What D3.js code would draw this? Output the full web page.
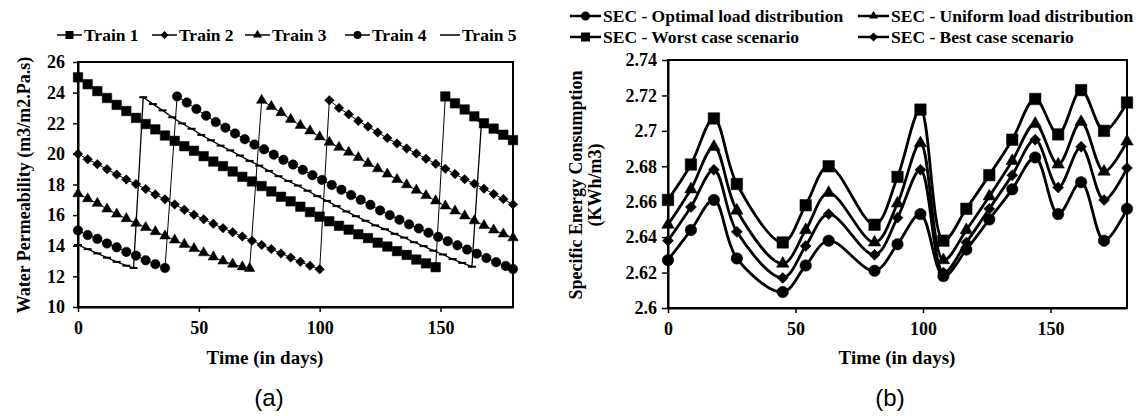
<!DOCTYPE html>
<html>
<head>
<meta charset="utf-8">
<script src="https://d3js.org/d3.v7.min.js"></script>
<style>
  body { margin: 0; background: #fff; }
  svg text { font-family: "Liberation Serif", "Times New Roman", serif; font-weight: bold; fill: #000; }
  .tag { font-family: "Liberation Sans", Arial, sans-serif !important; font-weight: normal !important; }
  .axis .domain { stroke: #000; stroke-width: 2; }
  .axis .tick line { stroke: #000; stroke-width: 1.5; }
</style>
</head>
<body>
<script>

// ---------- data: panel (a) water permeability ----------
var dayTicks = [0, 50, 100, 150];
var permTicks = [10, 12, 14, 16, 18, 20, 22, 24, 26];

var t1Days = [0,4,8,12,16,20,24,28,32,36,40,44,48,52,56,60,64,68,72,76,80,84,88,92,96,100,104,108,112,116,120,124,128,132,136,140,144,148,
              152,156,160,164,168,172,176,180];
var t1Perm = [25.0,24.55,24.1,23.65,23.2,22.8,22.35,21.95,21.6,21.2,20.85,20.5,20.2,19.85,19.5,19.2,18.85,18.5,18.2,17.9,17.55,17.2,16.9,16.55,16.2,15.9,15.6,15.3,15.05,14.75,14.5,14.2,13.95,13.65,13.4,13.1,12.85,12.6,
              23.75,23.3,22.9,22.45,22.0,21.65,21.25,20.9];

var t2Days = [0,4,8,12,16,20,24,28,32,36,40,44,48,52,56,60,64,68,72,76,80,84,88,92,96,100,
              104,108,112,116,120,124,128,132,136,140,144,148,152,156,160,164,168,172,176,180];
var t2Perm = [20.0,19.65,19.33,19.0,18.65,18.33,18.03,17.7,17.35,17.03,16.7,16.35,16.03,15.73,15.43,15.15,14.88,14.6,14.33,14.05,13.78,13.5,13.23,12.95,12.7,12.46,
              23.5,23.0,22.58,22.15,21.78,21.4,21.03,20.68,20.35,20.03,19.68,19.35,19.03,18.68,18.35,18.05,17.73,17.38,17.05,16.7];

var t3Days = [0,4,8,12,16,20,24,28,32,36,40,44,48,52,56,60,64,68,71,
              76,80,84,88,92,96,100,104,108,112,116,120,124,128,132,136,140,144,148,152,156,160,164,168,172,176,180];
var t3Perm = [17.4,17.07,16.77,16.4,16.07,15.77,15.47,15.19,14.92,14.64,14.37,14.09,13.82,13.54,13.27,13.0,12.8,12.62,12.52,
              23.5,23.1,22.69,22.25,21.86,21.5,21.11,20.76,20.43,20.11,19.76,19.38,19.03,18.68,18.33,17.98,17.63,17.28,16.93,16.6,16.27,15.95,15.63,15.32,15.03,14.77,14.52];

var t4Days = [0,4,8,12,16,20,24,28,32,36,
              41,45,49,53,57,61,65,69,73,77,81,85,89,93,97,101,105,109,113,117,121,125,129,133,137,141,145,149,153,157,161,165,169,173,177,180];
var t4Perm = [15.0,14.7,14.45,14.15,13.9,13.6,13.35,13.05,12.8,12.55,
              23.75,23.35,22.93,22.49,22.08,21.71,21.33,20.96,20.61,20.3,19.95,19.61,19.3,18.96,18.61,18.3,17.97,17.66,17.31,17.0,16.67,16.31,16.0,15.7,15.4,15.13,14.85,14.58,14.3,14.03,13.75,13.48,13.2,12.93,12.68,12.48];

var t5Days = [0,4,8,12,16,20,23,
              27,31,35,39,43,47,51,55,59,63,67,71,75,79,83,87,91,95,99,103,107,111,115,119,123,127,131,135,139,143,147,151,155,159,163,
              167,171,175,179];
var t5Perm = [14.05,13.78,13.5,13.22,12.95,12.7,12.55,
              23.7,23.25,22.84,22.39,21.99,21.64,21.24,20.89,20.54,20.23,19.89,19.54,19.23,18.89,18.54,18.23,17.93,17.59,17.24,16.93,16.59,16.24,15.93,15.63,15.33,15.08,14.78,14.53,14.23,13.98,13.68,13.43,13.13,12.88,12.63,
              22.15,21.75,21.35,21.0];

// ---------- data: panel (b) specific energy consumption ----------
var secTicks = [2.6, 2.62, 2.64, 2.66, 2.68, 2.7, 2.72, 2.74];
var secDays = [0,9,18,27,45,54,63,81,90,99,108,117,126,135,144,153,162,171,180];
var secOptimal = [2.627,2.644,2.661,2.628,2.609,2.624,2.638,2.621,2.636,2.653,2.618,2.633,2.650,2.667,2.685,2.653,2.671,2.638,2.656];
var secUniform = [2.647,2.667,2.691,2.655,2.625,2.644,2.665,2.637,2.659,2.693,2.627,2.644,2.663,2.683,2.704,2.681,2.705,2.677,2.694];
var secWorst   = [2.661,2.681,2.707,2.670,2.637,2.658,2.680,2.647,2.674,2.712,2.638,2.656,2.675,2.695,2.718,2.698,2.723,2.700,2.716];
var secBest    = [2.638,2.657,2.678,2.643,2.617,2.635,2.653,2.630,2.651,2.678,2.620,2.637,2.656,2.675,2.695,2.668,2.691,2.661,2.679];

var w = 1145, h = 416;

var svg = d3.select("body").append("svg")
    .attr("width", w)
    .attr("height", h);

// marker path of a given nominal width
function symPath(type, px) {
  if (type === "square") return d3.symbol(d3.symbolSquare, px * px)();
  if (type === "circle") return d3.symbol(d3.symbolCircle, Math.PI * px * px / 4)();
  if (type === "triangle") return d3.symbol(d3.symbolTriangle, Math.sqrt(3) / 4 * px * px)();
  if (type === "diamond") return d3.symbol(d3.symbolSquare, px * px / 2)();
  return "M" + (-px / 2) + ",0H" + (px / 2);
}

function drawMarkers(g, pts, type, px) {
  g.selectAll("path.m")
    .data(pts)
    .enter().append("path")
      .attr("class", "m")
      .attr("d", symPath(type, px))
      .attr("transform", function(d) {
        return "translate(" + d[0] + "," + d[1] + ")" + (type === "diamond" ? " rotate(45)" : "");
      })
      .attr("fill", type === "dash" ? "none" : "#000")
      .attr("stroke", "#000")
      .attr("stroke-width", type === "dash" ? 2 : 0.5);
}

// ================= panel (a) =================
var xA = d3.scaleLinear().domain([0, 180]).range([78, 513]);
var yA = d3.scaleLinear().domain([10, 26]).range([307, 62]);

var trains = [
  {name: "Train 1", days: t1Days, vals: t1Perm, sym: "square",   size: 9.5, lw: 1},
  {name: "Train 2", days: t2Days, vals: t2Perm, sym: "diamond",  size: 9.5, lw: 1},
  {name: "Train 3", days: t3Days, vals: t3Perm, sym: "triangle", size: 10.5, lw: 1},
  {name: "Train 4", days: t4Days, vals: t4Perm, sym: "circle",   size: 9.5, lw: 1},
  {name: "Train 5", days: t5Days, vals: t5Perm, sym: "dash",     size: 8,  lw: 1.3}
];

var gA = svg.append("g");

gA.append("g")
    .attr("class", "axis")
    .attr("transform", "translate(0," + yA(10) + ")")
    .call(d3.axisBottom(xA).tickValues(dayTicks).tickSize(5).tickSizeOuter(0).tickPadding(9))
    .selectAll("text").style("font-size", "18px");

gA.append("g")
    .attr("class", "axis")
    .attr("transform", "translate(" + xA(0) + ",0)")
    .call(d3.axisLeft(yA).tickValues(permTicks).tickSize(5).tickSizeOuter(0).tickPadding(8))
    .selectAll("text").style("font-size", "18px");

gA.append("rect")
    .attr("x", xA(0)).attr("y", yA(26))
    .attr("width", xA(180) - xA(0)).attr("height", yA(10) - yA(26))
    .attr("fill", "none").attr("stroke", "#000").attr("stroke-width", 2);

var lineA = d3.line();

trains.forEach(function(t) {
  var pts = t.days.map(function(d, i) { return [xA(d), yA(t.vals[i])]; });
  var g = gA.append("g");
  g.append("path")
      .attr("d", lineA(pts))
      .attr("fill", "none")
      .attr("stroke", "#000")
      .attr("stroke-width", t.lw);
  drawMarkers(g, pts, t.sym, t.size);
});

// legend (a)
var legA = [57, 152, 245, 345, 440];
trains.forEach(function(t, i) {
  var g = svg.append("g").attr("transform", "translate(" + legA[i] + ",35)");
  var len = t.sym === "dash" ? 20 : 25;
  g.append("line").attr("x1", 0).attr("x2", len).attr("y1", 0).attr("y2", 0)
      .attr("stroke", "#000").attr("stroke-width", 1.5);
  if (t.sym !== "dash") {
    g.append("path").attr("d", symPath(t.sym, t.sym === "triangle" ? 9 : 8))
        .attr("transform", "translate(" + len / 2 + ",0)" + (t.sym === "diamond" ? " rotate(45)" : ""))
        .attr("fill", "#000");
  }
  g.append("text").attr("x", len + 2).attr("y", 6)
      .style("font-size", "17.5px")
      .text(t.name);
});

gA.append("text")
    .attr("transform", "translate(30,185) rotate(-90)")
    .attr("text-anchor", "middle")
    .style("font-size", "18px")
    .text("Water Permeability (m3/m2.Pa.s)");

gA.append("text")
    .attr("x", 265).attr("y", 364)
    .attr("text-anchor", "middle")
    .style("font-size", "19px")
    .text("Time (in days)");

svg.append("text")
    .attr("class", "tag")
    .attr("x", 269).attr("y", 406)
    .attr("text-anchor", "middle")
    .style("font-size", "24px")
    .text("(a)");

// ================= panel (b) =================
var xB = d3.scaleLinear().domain([0, 180]).range([668, 1127]);
var yB = d3.scaleLinear().domain([2.6, 2.74]).range([308, 60]);

var secSeries = [
  {name: "SEC - Optimal load distribution", vals: secOptimal, sym: "circle",   size: 11.5},
  {name: "SEC - Uniform load distribution", vals: secUniform, sym: "triangle", size: 12.5},
  {name: "SEC - Worst case scenario",       vals: secWorst,   sym: "square",   size: 11.5},
  {name: "SEC - Best case scenario",        vals: secBest,    sym: "diamond",  size: 11}
];

var gB = svg.append("g");

gB.append("g")
    .attr("class", "axis")
    .attr("transform", "translate(0," + yB(2.6) + ")")
    .call(d3.axisBottom(xB).tickValues(dayTicks).tickSize(5).tickSizeOuter(0).tickPadding(9))
    .selectAll("text").style("font-size", "18px");

gB.append("g")
    .attr("class", "axis")
    .attr("transform", "translate(" + xB(0) + ",0)")
    .call(d3.axisLeft(yB).tickValues(secTicks).tickSize(6).tickSizeOuter(0).tickPadding(5)
      .tickFormat(function(d) { return String(+d.toFixed(2)); }))
    .selectAll("text").style("font-size", "18px");

gB.append("rect")
    .attr("x", xB(0)).attr("y", yB(2.74))
    .attr("width", xB(180) - xB(0)).attr("height", yB(2.6) - yB(2.74))
    .attr("fill", "none").attr("stroke", "#000").attr("stroke-width", 2);

var lineB = d3.line().curve(d3.curveCatmullRom.alpha(0.5));

secSeries.forEach(function(s) {
  var pts = secDays.map(function(d, i) { return [xB(d), yB(s.vals[i])]; });
  var g = gB.append("g");
  g.append("path")
      .attr("d", lineB(pts))
      .attr("fill", "none")
      .attr("stroke", "#000")
      .attr("stroke-width", 2.8);
  drawMarkers(g, pts, s.sym, s.size);
});

// legend (b)
var legB = [[570, 16], [858, 16], [570, 37], [858, 37]];
secSeries.forEach(function(s, i) {
  var g = svg.append("g").attr("transform", "translate(" + legB[i][0] + "," + legB[i][1] + ")");
  g.append("line").attr("x1", 0).attr("x2", 31).attr("y1", 0).attr("y2", 0)
      .attr("stroke", "#000").attr("stroke-width", 2.5);
  g.append("path").attr("d", symPath(s.sym, 9))
      .attr("transform", "translate(15.5,0)" + (s.sym === "diamond" ? " rotate(45)" : ""))
      .attr("fill", "#000");
  g.append("text").attr("x", 33).attr("y", 6)
      .style("font-size", "17.5px")
      .text(s.name);
});

var yTitle = gB.append("text")
    .attr("transform", "translate(582,185) rotate(-90)")
    .attr("text-anchor", "middle")
    .style("font-size", "18px");
yTitle.append("tspan").attr("x", 0).attr("dy", 0).text("Specific Energy Consumption");
yTitle.append("tspan").attr("x", 0).attr("dy", "1.05em").text("(KWh/m3)");

gB.append("text")
    .attr("x", 897).attr("y", 364)
    .attr("text-anchor", "middle")
    .style("font-size", "19px")
    .text("Time (in days)");

svg.append("text")
    .attr("class", "tag")
    .attr("x", 890).attr("y", 406)
    .attr("text-anchor", "middle")
    .style("font-size", "24px")
    .text("(b)");

</script>
</body>
</html>
